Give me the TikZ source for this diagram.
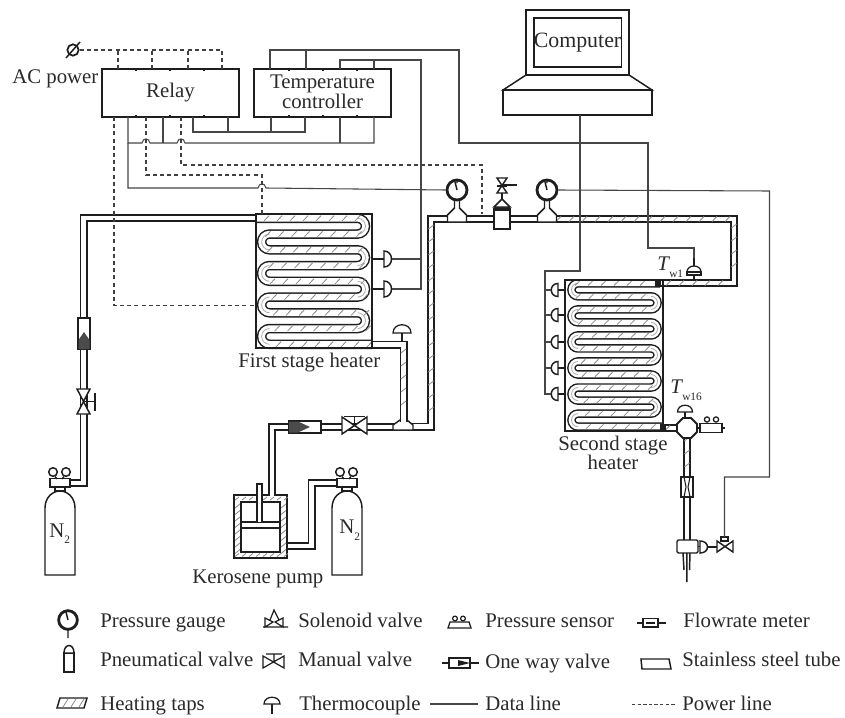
\documentclass[tikz,border=0pt]{standalone}
\usepackage{fontspec}
\setmainfont{Liberation Serif}
\definecolor{ink}{HTML}{1E1E1E}
\definecolor{wire}{HTML}{464646}
\definecolor{hatchc}{HTML}{8A8A8A}
\definecolor{txt}{HTML}{2A2A2A}
\tikzset{
  ln/.style={draw=ink,line width=1.1pt,line join=miter},
  thin ln/.style={draw=ink,line width=.8pt},
  data/.style={draw=wire,line width=.8pt},
  power/.style={draw=ink!85!white,line width=.9pt,dash pattern=on 3pt off 2.4pt},
  pipeout/.style={draw=ink,line width=6pt},
  pipein/.style={draw=white,line width=3.7pt},
  hatchln/.style={draw=hatchc,line width=.6pt},
  bendln/.style={draw=hatchc!70!white,line width=.6pt},
  white box/.style={ln,fill=white},
  lab/.style={font=\fontsize{15.6}{13.5}\selectfont,text=txt,inner sep=0pt},
  sublab/.style={font=\fontsize{8.5}{9}\selectfont,text=txt,inner sep=0pt},
  leg/.style={lab,anchor=base west},
  blockbox/.style={ln,minimum height=36pt,minimum width=102.75pt,inner sep=0pt,align=center,font=\fontsize{15.6}{13.5}\selectfont,text=txt},
  gaugebox/.style={draw=ink,line width=2.1pt,circle,minimum size=15pt,inner sep=0pt,fill=white},
}
% straight hatch marks on a horizontal and on a vertical tube
\newcommand{\hatchH}[3]{\foreach \i in {0,...,#3}{\draw[hatchln] ({#2+\i*13},{#1+2.6}) -- ({#2+\i*13+5},{#1-2.6});}}
\newcommand{\hatchV}[3]{\foreach \i in {0,...,#3}{\draw[hatchln] ({#1-2.6},{#2+\i*13+4}) -- ({#1+2.6},{#2+\i*13});}}
\newcommand{\pipeD}[1]{\draw[pipeout] #1; \draw[pipein] #1;}
% dome shapes
\newcommand{\domeUp}[4]{\draw[white box,line width=.95pt] (#1-#3,#2) .. controls (#1-#3,#2-#4) and (#1+#3,#2-#4) .. (#1+#3,#2) -- cycle;}
\newcommand{\domeRight}[3]{\draw[white box] (#1,#2-#3) .. controls (#1+10,#2-#3) and (#1+10,#2+#3) .. (#1,#2+#3) -- cycle;}
\newcommand{\domeLeft}[3]{\draw[white box] (#1,#2-#3) .. controls (#1-9,#2-#3) and (#1-9,#2+#3) .. (#1,#2+#3) -- cycle;}
\newcommand{\gaugeT}[3]{%
  \draw[white box] (#2-2.5,#3+10) -- (#2-2.5,#3+18) -- (#2-9.5,#3+25) -- (#2-9.5,#3+32) -- (#2+9.5,#3+32) -- (#2+9.5,#3+25) -- (#2+2.5,#3+18) -- (#2+2.5,#3+10);
  \node[gaugebox] (#1) at (#2,#3) {};
  \draw[ln] (#2,#3) -- (#2-2,#3-8) (#2,#3-10.5) -- (#2,#3-7);
}
\newcommand{\bottle}[2]{%
  \draw[white box] (#1-15,575) -- (#1-15,508) .. controls (#1-15,497) and (#1-7,491) .. (#1,491) .. controls (#1+7,491) and (#1+15,497) .. (#1+15,508) -- (#1+15,575) -- cycle;
  \draw[white box] (#1-5,487) rectangle (#1+5,491);
  \draw[white box] (#1-10,478.5) rectangle (#1+10,487);
  \draw[ln] (#1-7,472) circle[radius=4.3] (#1+6,472) circle[radius=4.3];
  \draw[ln] (#1-5,476.5) -- (#1-3,479) (#1+4,476.5) -- (#1+2,479);
}
\begin{document}
\begin{tikzpicture}[x=.75pt,y=-.75pt]
\useasboundingbox (0,0) rectangle (845,717);
\fill[white] (0,0) rectangle (845,717);

%---------- heater paths
\def\Ra{arc[start angle=-90,end angle=90,radius=7.875]}
\def\La{arc[start angle=-90,end angle=-270,radius=7.875]}
\def\heaterA{(256,218.3) -- (357.6,218.3) \Ra -- ++(-88.1,0) \La -- ++(88.1,0) \Ra -- ++(-88.1,0) \La -- ++(88.1,0) \Ra -- ++(-88.1,0) \La -- ++(88.1,0) \Ra -- ++(-88.1,0) \La -- (372,344.3)}
\def\Rb{arc[start angle=-90,end angle=90,radius=6.515]}
\def\Lb{arc[start angle=-90,end angle=-270,radius=6.515]}
\def\heaterB{(660,283.3) -- (578,283.3) \Lb -- ++(73,0) \Rb -- ++(-73,0) \Lb -- ++(73,0) \Rb -- ++(-73,0) \Lb -- ++(73,0) \Rb -- ++(-73,0) \Lb -- ++(73,0) \Rb -- ++(-73,0) \Lb -- ++(73,0) \Rb -- ++(-73,0) \Lb -- (663,426.6)}

%---------- pipes
\pipeD{(256,218) -- (83.5,218) -- (83.5,483) -- (70,483)}
\pipeD{(372,344.5) -- (403.5,344.5) -- (403.5,425)}
\pipeD{(272,496) -- (272,427) -- (393,427)}
\pipeD{(338,483) -- (311.5,483) -- (311.5,546) -- (287,546)}
\pipeD{(393,426.5) -- (431,426.5) -- (431,219) -- (734,219) -- (734,283) -- (660,283)}
\pipeD{(663,428) -- (687,428)}
\pipeD{(687,428) -- (687,541)}
\hatchV{403.5}{349}{5}
\hatchV{431}{225}{14}
\hatchH{219}{556}{13}
\hatchV{734}{224}{3}
\hatchH{283}{666}{4}
\hatchH{428}{665}{0}
\hatchV{687}{437}{2}

%---------- heater 1
\draw[draw=ink,line width=7.1pt] \heaterA;
\draw[draw=white,line width=4.9pt] \heaterA;
\draw[bendln]
  (357.6,218.3) \Ra (269.5,234.05) \La (357.6,249.8) \Ra (269.5,265.55) \La
  (357.6,281.3) \Ra (269.5,297.05) \La (357.6,312.8) \Ra (269.5,328.55) \La;
\foreach \r in {0,...,8}{\hatchH{218.3+15.75*\r}{264+1.5*\r}{7}}
\draw[ln] (256,214) rectangle (372,348);

%---------- heater 2
\draw[draw=ink,line width=6.4pt] \heaterB;
\draw[draw=white,line width=4.2pt] \heaterB;
\draw[bendln]
  (578,283.3) \Lb (651,296.33) \Rb (578,309.36) \Lb (651,322.39) \Rb
  (578,335.42) \Lb (651,348.45) \Rb (578,361.48) \Lb (651,374.51) \Rb
  (578,387.54) \Lb (651,400.57) \Rb (578,413.6) \Lb;
\foreach \r in {0,...,11}{\foreach \i in {0,...,5}{\draw[hatchln] ({575+\r+\i*13},{283.3+13.03*\r+2.2}) -- ({575+\r+\i*13+4.5},{283.3+13.03*\r-2.2});}}
\draw[ln] (565,280) rectangle (663,431);
\fill[ink] (655,280) rectangle (661,287);
\fill[ink] (660,424) rectangle (666,431);

%---------- blocks
\node[blockbox] (relay) at (170.5,93) {Relay};
\node[blockbox] (tempc) at (322.5,93) {\raisebox{2pt}{\shortstack{Temperature\\[-2.5pt]controller}}};
\draw[ln] (526,10) rectangle (629,75);
\node[ln,minimum width=63.75pt,minimum height=36.75pt,inner sep=0pt,font=\fontsize{16.4}{13.5}\selectfont,text=txt] (computer) at (577.5,42.5) {Computer};
\draw[ln] (526,75) -- (503,90) -- (652,90) -- (629,75);
\node[ln,minimum width=111.75pt,minimum height=18.75pt,inner sep=0pt] (cbase) at (577.5,102.5) {};

%---------- AC power
\node[draw=ink,line width=1.3pt,circle,minimum size=8.5pt,inner sep=0pt] (ac) at (73,50) {};
\draw[ln] (66,58) -- (80,42);
\node[leg] (aclabel) at (12,84) {AC power};

%---------- ports
\foreach \n/\x in {a/118,b/152,c/188,d/222}{\coordinate (rt\n) at (\x,69);}
\foreach \n/\x in {a/114,b/128,c/146,d/163,e/181,f/193,g/228}{\coordinate (rb\n) at (\x,117);}
\foreach \n/\x in {a/270,b/306,c/340,d/374}{\coordinate (tt\n) at (\x,69);}
\foreach \n/\x in {a/271,b/305,c/340,d/374}{\coordinate (tb\n) at (\x,117);}
\foreach \x in {136,170,204,289,323,357}{\draw[ln] (\x,69) -- (\x,71.5) (\x,117) -- (\x,114.5);}

%---------- gauges, valve on the line
\gaugeT{gaugeA}{457}{190}
\gaugeT{gaugeB}{547}{190}
% pneumatic valve and solenoid
\draw[white box] (494,209) rectangle (510,229);
\fill[ink] (494,207) rectangle (510,211);
\draw[white box] (494,207) -- (502,199) -- (510,207) -- cycle;
\draw[ln,fill=white] (497,178) -- (507,178) -- (497,193) -- (507,193) -- cycle;
\draw[ln] (502,185) -- (517,185) (497,186) -- (507,186) (502,193) -- (502,199);
\coordinate (powB) at (482,214);
\coordinate (powA) at (262,214);

%---------- thermocouples heater 1
\draw[ln] (372,259) -- (384,259) (372,289) -- (384,289);
\domeRight{384}{259}{8}
\domeRight{384}{289}{8}
\coordinate (tcA) at (392,259);
\coordinate (tcB) at (392,289);
\draw[ln] (402,341) -- (402,333);
\domeUp{402}{333}{9}{11}
%---------- thermocouples heater 2
\foreach \y in {290,315,342,368,394}{\draw[ln] (558,\y) -- (565,\y); \domeLeft{558}{\y}{6.5} \coordinate (tc\y) at (551,\y);}
\draw[ln] (694,258) -- (694,279);
\domeUp{694}{272}{7}{8}
\draw[white box,line width=.9pt] (687,272) rectangle (701,275);

%---------- first line of N2
\draw[white box] (78,318) rectangle (90,349);
\fill[ink!80!white] (78.5,349) -- (78.5,340) -- (84,332) -- (89.5,340) -- (89.5,349) -- cycle;
\draw[white box] (77,389) -- (90,389) -- (77,414) -- (90,414) -- cycle;
\draw[ln] (83.5,401.5) -- (95,401.5) (95,393) -- (95,411);
\bottle{60}{a}
\bottle{347}{b}
%---------- kerosene pump
\draw[white box] (234,495) rectangle (287,558);
\foreach \i in {0,...,7}{\draw[hatchln] ({235+\i*7},500) -- ({239+\i*7},497);\draw[hatchln] ({235+\i*7},556.5) -- ({239+\i*7},553.5);}
\foreach \i in {0,...,7}{\draw[hatchln] (235,{508+\i*6.5}) -- (240,{504+\i*6.5});\draw[hatchln] (281,{508+\i*6.5}) -- (286,{504+\i*6.5});}
\draw[white box] (241,502) rectangle (280,552);
\draw[white box] (241,522) rectangle (280,528);
\draw[white box] (257,522) -- (257,484) -- (262,484) -- (262,522);
\pipeD{(272,496) -- (272,493)}
%---------- one way valve and manual valve
\draw[white box] (289,421) rectangle (321,433);
\fill[ink!80!white] (289,421.5) -- (298,421.5) -- (310,427) -- (298,432.5) -- (289,432.5) -- cycle;
\draw[white box] (342,417) -- (342,434) -- (367,417) -- (367,434) -- cycle;
\draw[ln] (354.5,425.5) -- (354.5,416.5) (344,416.5) -- (365,416.5);
% T pieces
\draw[white box] (393,430) -- (393,425) -- (400,420) -- (407,420) -- (413,425) -- (413,430) -- cycle;
\pipeD{(403.5,412) -- (403.5,422)}
%---------- outlet
\draw[ln] (685,420) -- (685,412);
\domeUp{685}{412}{7.5}{9}
\draw[white box,line width=1.4pt] (683,418) -- (691,418) -- (697,424) -- (697,432) -- (691,438) -- (683,438) -- (677,432) -- (677,424) -- cycle;
\draw[white box] (700,423.5) rectangle (722,432.5);
\draw[ln] (722,428) -- (725,428) (697,428) -- (700,428);
\draw[ln,line width=.95pt] (707,419.5) circle[radius=2.6] (716,419.5) circle[radius=2.6];
\draw[white box] (681,477) rectangle (693,497);
\draw[ln,line width=.8pt] (684,477) -- (686,487) -- (684,497) (690,477) -- (688,487) -- (690,497);
\draw[white box,rounded corners=1pt] (677,540) rectangle (698,553);
\draw[ln] (683,553) -- (684,570) (690,553) -- (689.5,570) (686.8,553) -- (686.8,582);
\draw[ln] (698,546.5) -- (700,546.5);
\domeRight{700}{547}{6}
\draw[ln] (708,547) -- (717,547);
\draw[white box] (717,541) -- (717,552) -- (733,541) -- (733,552) -- cycle;
\draw[white box] (721,537) rectangle (728,541);
\coordinate (solout) at (724.5,537);

%---------- data lines
\draw[data] (tta) -- (270,50) -- (459,50) -- (459,143) -- (648,143) -- (648,248) -- (694,248) -- (694,258);
\draw[data] (ttb) -- (306,50);
\draw[data] (ttc) -- (340,60) -- (421,60) -- (421,289) -- (tcB);
\draw[data] (ttd) -- (374,60);
\draw[data] (tcA) -- (421,259);
\draw[data] (rbf) -- (193,132) -- (305,132) -- (tbb);
\draw[data] (rbg) -- (228,132);
\draw[data] (tba) -- (271,132);
\draw[data] (rbb) -- (128,143) -- (142,143) .. controls (143,137.5) and (149,137.5) .. (150,143) -- (177,143) .. controls (178,137.5) and (184,137.5) .. (185,143) -- (374,143) -- (tbd);
\draw[data] (rbd) -- (163,143);
\draw[data] (tbc) -- (340,143);
\draw[data] (128,143) -- (128,188) -- (258,188) .. controls (259,182.5) and (265,182.5) .. (266,188) -- (gaugeA.west);
\draw[data] (580,115) -- (580,271) -- (545,271) -- (545,394) -- (tc394);
\foreach \y in {290,315,342,368}{\draw[data] (545,\y) -- (tc\y);}
\draw[data] (gaugeB.east) -- (769.5,191) -- (769.5,477) -- (724.5,477) -- (solout);

%---------- power lines
\draw[power] (ac.east) -- (223,50);
\foreach \n in {a,b,c,d}{\draw[power] (rt\n) -- (rt\n |- ac);}
\draw[power] (rbc) -- (146,175) -- (262,175) -- (powA);
\draw[power] (rbe) -- (181,165) -- (482,165) -- (powB);
\draw[power] (rba) -- (114,305.5) -- (256,305.5);

%---------- labels
\node[leg] (firstlab) at (238,367) {First stage heater};
\node[lab,anchor=base] (seclabA) at (613,450) {Second stage};
\node[lab,anchor=base] (seclabB) at (613,469) {heater};
\node[leg] (kerolab) at (192,583) {Kerosene pump};
\node[leg] (nlabA) at (49,537) {N};
\node[sublab,anchor=base west] (nsubA) at (64,543) {2};
\node[leg] (nlabB) at (339,533) {N};
\node[sublab,anchor=base west] (nsubB) at (354,540) {2};
\node[leg,font=\fontsize{15.6}{13.5}\selectfont\itshape] (twone) at (657,270) {T};
\node[sublab,anchor=base west] (twonesub) at (669,277) {w1};
\node[leg,font=\fontsize{15.6}{13.5}\selectfont\itshape] (twlast) at (670,393) {T};
\node[sublab,anchor=base west] (twlastsub) at (682,400) {w16};

%---------- legend
\node[gaugebox,minimum size=14pt] (lgauge) at (68,620) {};
\draw[ln] (68,620) -- (66,612) (68,629) -- (68,638);
\node[leg] at (100,627) (l1) {Pressure gauge};
% solenoid
\draw[ln,line width=.9pt] (265,618) -- (265,627) -- (273,622) -- cycle (283,618) -- (283,627) -- (275,622) -- cycle (270,620) -- (274,610) -- (279,620) (263,627) -- (288,627);
\node[leg] at (298,627) (l2) {Solenoid valve};
% sensor
\draw[ln,line width=.95pt] (448,628) -- (450,622) -- (469,622) -- (471,628) -- cycle;
\draw[ln,line width=.9pt] (455,618.5) circle[radius=2.4] (463,618.5) circle[radius=2.4];
\node[leg] at (485,627) (l3) {Pressure sensor};
% flowmeter
\draw[white box] (643,618.5) rectangle (658,627);
\draw[ln] (637,623) -- (643,623) (658,623) -- (666,623) (646,623) -- (655,623);
\node[leg] at (683,627) (l4) {Flowrate meter};
% pneumatic
\draw[white box] (64,653) rectangle (74,672);
\draw[white box] (64,653) .. controls (64,643) and (74,643) .. (74,653) -- cycle;
\node[leg] at (100,666) (l5) {Pneumatical valve};
% manual
\draw[ln,line width=.9pt] (263,656) -- (263,668) -- (284,656) -- (284,668) -- cycle (266,654) -- (282,654) (274,654) -- (274,662);
\node[leg] at (298,666) (l6) {Manual valve};
% one way
\draw[white box] (449,658) rectangle (470,668);
\fill[ink] (458,660) -- (470,663) -- (458,666) -- cycle;
\draw[ln] (442,663) -- (449,663) (470,663) -- (479,663);
\node[leg] at (485,668) (l7) {One way valve};
% tube
\draw[ln] (641,659) -- (669,659) -- (671,669) -- (642,669) -- cycle;
\node[leg] at (682,666) (l8) {Stainless steel tube};
% taps
\draw[ln] (57,708) -- (60,698) -- (87,698) -- (84,708) -- cycle;
\foreach \x in {63,71,79}{\draw[hatchln] (\x,707) -- (\x+5,699);}
\node[leg] at (100,710) (l9) {Heating taps};
% thermocouple
\draw[ln] (272,704) -- (272,714);
\domeUp{272}{704}{8}{9}
\node[leg] at (299,710) (l10) {Thermocouple};
\coordinate (ldataa) at (430,704);
\coordinate (ldatab) at (478,704);
\draw[data] (ldataa) -- (ldatab);
\node[leg] at (485,710) (l11) {Data line};
\coordinate (lpowa) at (632,704);
\coordinate (lpowb) at (676,704);
\draw[power,line width=.7pt,dash pattern=on 2.6pt off 1.6pt] (lpowa) -- (lpowb);
\node[leg] at (682,710) (l12) {Power line};
\end{tikzpicture}
\end{document}
